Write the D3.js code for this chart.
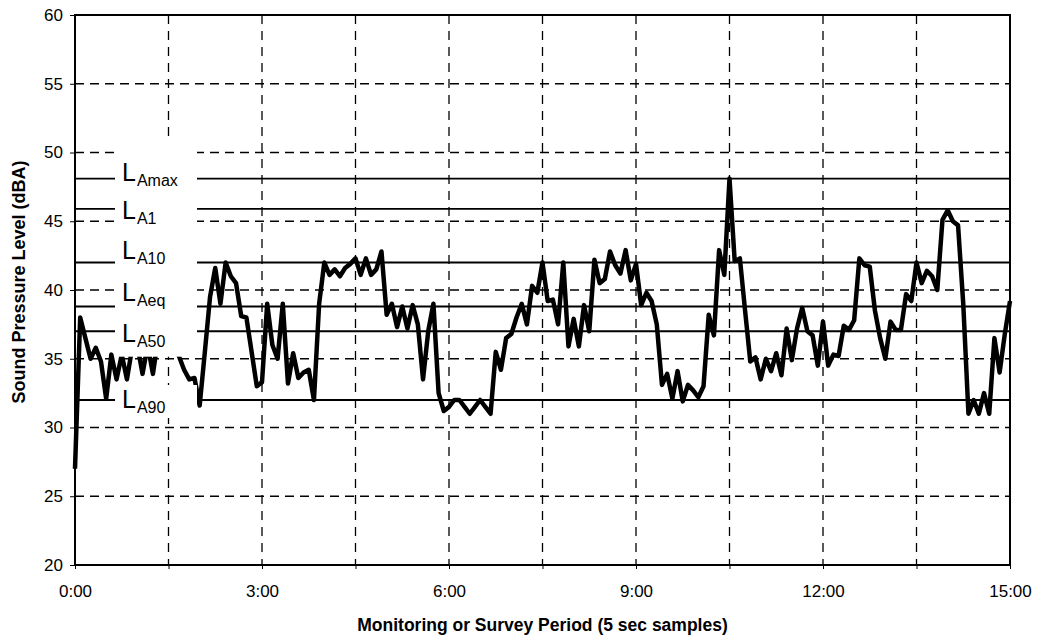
<!DOCTYPE html>
<html>
<head>
<meta charset="utf-8">
<script src="https://cdn.jsdelivr.net/npm/d3@7"></script>
<style>
  body { margin: 0; background: #fff; }
  svg text { font-family: "Liberation Sans", Arial, sans-serif; fill: #000; }
</style>
</head>
<body>
<svg id="chart" width="1040" height="641"></svg>
<script>
// 5 second samples, 0:00 .. 15:00
const sampleSeconds = 5;
const levels = [
  27.0, 38.0, 36.5, 35.0, 35.8, 34.8, 32.1, 35.3, 33.5, 35.3,
  33.5, 35.8, 36.0, 33.9, 36.0, 33.9, 36.5, 37.0, 36.5, 36.0,
  35.2, 34.2, 33.5, 33.6, 31.6, 35.5, 39.5, 41.6, 39.0, 42.0,
  41.0, 40.5, 38.1, 38.0, 35.5, 33.0, 33.3, 39.0, 36.0, 35.0,
  39.0, 33.2, 35.4, 33.6, 34.0, 34.2, 32.0, 39.0, 42.0, 41.1,
  41.5, 41.0, 41.6, 41.9, 42.3, 41.1, 42.3, 41.1, 41.5, 42.8,
  38.2, 39.0, 37.3, 38.8, 37.2, 38.9, 37.5, 33.5, 37.0, 39.0,
  32.5, 31.2, 31.5, 32.0, 32.0, 31.5, 31.0, 31.5, 32.0, 31.5,
  31.0, 35.5, 34.2, 36.5, 36.8, 38.0, 39.0, 37.5, 40.3, 39.8,
  42.0, 39.2, 39.3, 37.5, 42.0, 35.9, 37.9, 35.9, 38.9, 37.0,
  42.2, 40.5, 40.8, 42.8, 41.8, 41.2, 42.9, 40.7, 41.9, 38.9,
  39.8, 39.2, 37.5, 33.1, 33.9, 32.1, 34.1, 31.9, 33.1, 32.7,
  32.2, 33.0, 38.2, 36.7, 42.9, 41.1, 48.1, 42.1, 42.3, 38.5,
  34.8, 35.1, 33.5, 35.0, 34.1, 35.4, 33.8, 37.2, 34.9, 37.2,
  38.7, 37.0, 36.7, 34.5, 37.7, 34.5, 35.3, 35.2, 37.4, 37.1,
  37.8, 42.3, 41.8, 41.7, 38.5, 36.5, 35.0, 37.7, 37.1, 37.1,
  39.7, 39.2, 42.0, 40.5, 41.4, 41.0, 40.0, 45.1, 45.8, 45.0,
  44.7, 39.0, 31.0, 32.0, 31.0, 32.5, 31.0, 36.5, 34.0, 36.8,
  39.2
];

const yTicks = [20, 25, 30, 35, 40, 45, 50, 55, 60];
const xTickSecs = [0, 180, 360, 540, 720, 900];
const xTickLabels = ["0:00", "3:00", "6:00", "9:00", "12:00", "15:00"];
const xGridSecs = [90, 180, 270, 360, 450, 540, 630, 720, 810];

const refNames = ["Amax", "A1", "A10", "Aeq", "A50", "A90"];
const refValues = [48.1, 45.9, 42.0, 38.8, 37.0, 32.0];
// baseline shift of each label against its line (px)
const refLabelShift = [2, 10, -4, -6, 11, 8];

const svg = d3.select("#chart");
const margin = { top: 15, right: 30, bottom: 76, left: 75 };
const width = 1040 - margin.left - margin.right;
const height = 641 - margin.top - margin.bottom;

const x = d3.scaleLinear().domain([0, 900]).range([0, width]);
const y = d3.scaleLinear().domain([20, 60]).range([height, 0]);

const g = svg.append("g")
  .attr("transform", `translate(${margin.left}, ${margin.top})`);

// dashed grid
g.append("g").selectAll("line")
  .data(yTicks.filter(v => v > 20 && v < 60))
  .enter().append("line")
  .attr("x1", 0).attr("x2", width)
  .attr("y1", d => y(d)).attr("y2", d => y(d))
  .attr("stroke", "#000").attr("stroke-width", 1.3)
  .attr("stroke-dasharray", "9,6");

g.append("g").selectAll("line")
  .data(xGridSecs)
  .enter().append("line")
  .attr("x1", d => x(d)).attr("x2", d => x(d))
  .attr("y1", 0).attr("y2", height)
  .attr("stroke", "#000").attr("stroke-width", 1.3)
  .attr("stroke-dasharray", "9,7");

// statistical levels
g.append("g").selectAll("line")
  .data(refValues)
  .enter().append("line")
  .attr("x1", 0).attr("x2", width)
  .attr("y1", d => y(d)).attr("y2", d => y(d))
  .attr("stroke", "#000").attr("stroke-width", 1.8);

// measured level
const line = d3.line()
  .x((d, i) => x(i * sampleSeconds))
  .y(d => y(d));

g.append("path")
  .datum(levels)
  .attr("fill", "none")
  .attr("stroke", "#000")
  .attr("stroke-width", 4.5)
  .attr("stroke-linejoin", "round")
  .attr("d", line);

// white boxes behind the labels
g.append("rect")
  .attr("x", 40).attr("width", 82)
  .attr("y", 128).attr("height", y(35.15) - 128)
  .attr("fill", "#fff");
g.append("rect")
  .attr("x", 40).attr("width", 82)
  .attr("y", y(32) - 15).attr("height", 33)
  .attr("fill", "#fff");

const labels = g.append("g").selectAll("text")
  .data(refNames)
  .enter().append("text")
  .attr("x", 47)
  .attr("y", (d, i) => y(refValues[i]) + refLabelShift[i])
  .style("font-size", "25px");
labels.append("tspan").text("L");
labels.append("tspan")
  .attr("dy", 5).attr("dx", 1)
  .style("font-size", "16px")
  .text(d => d);

// frame
g.append("rect")
  .attr("x", 0).attr("y", 0)
  .attr("width", width).attr("height", height)
  .attr("fill", "none").attr("stroke", "#000").attr("stroke-width", 2);

// axes
const yAxis = d3.axisLeft(y).tickValues(yTicks).tickSize(5).tickPadding(7);
g.append("g").call(yAxis)
  .call(a => a.select(".domain").remove())
  .call(a => a.selectAll("text").style("font-size", "17px"));

const xAxis = d3.axisBottom(x)
  .tickValues([0].concat(xGridSecs, [900]))
  .tickSize(4).tickPadding(16)
  .tickFormat(d => {
    const k = xTickSecs.indexOf(d);
    return k >= 0 ? xTickLabels[k] : "";
  });
g.append("g")
  .attr("transform", `translate(0, ${height})`)
  .call(xAxis)
  .call(a => a.select(".domain").remove())
  .call(a => a.selectAll("text").style("font-size", "17px"));

// titles
svg.append("text")
  .attr("x", margin.left + width / 2)
  .attr("y", 631)
  .attr("text-anchor", "middle")
  .style("font-size", "17.5px")
  .style("font-weight", "bold")
  .text("Monitoring or Survey Period (5 sec samples)");

svg.append("text")
  .attr("transform", "translate(25, 282) rotate(-90)")
  .attr("text-anchor", "middle")
  .style("font-size", "18px")
  .style("font-weight", "bold")
  .text("Sound Pressure Level (dBA)");
</script>
</body>
</html>
